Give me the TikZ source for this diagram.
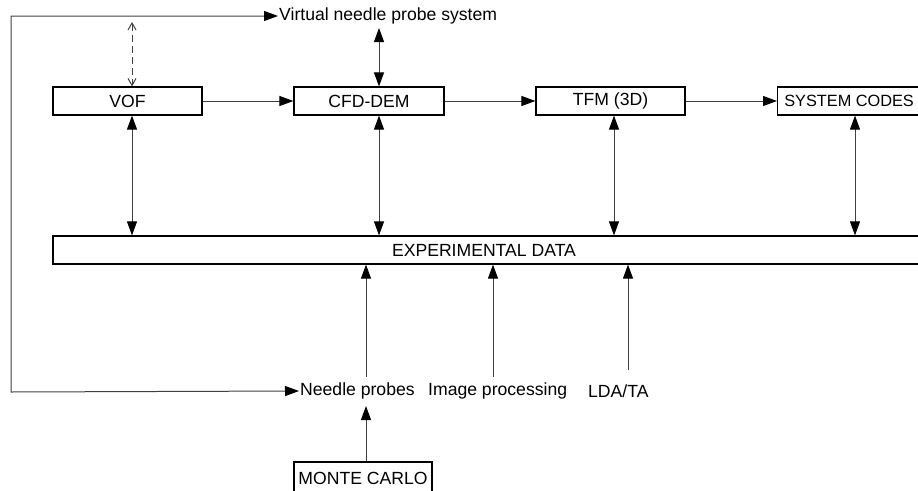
\documentclass[tikz,border=0pt]{standalone}
\usepackage{fontspec}
\setmainfont{Liberation Sans}
\usetikzlibrary{arrows.meta}
\begin{document}
\begin{tikzpicture}[x=1pt,y=-1pt,
  every node/.style={font=\fontsize{17.6}{20}\selectfont},
  blk/.style={draw, line width=1.2pt, inner sep=0pt, minimum height=28pt},
  lbl/.style={inner sep=1pt},
  conn/.style={line width=1pt, draw=black!75},
  tip/.tip={Triangle[length=14pt,width=10pt,color=black]},
  fwd/.style={conn, -tip},
  dbl/.style={conn, tip-tip},
  dashdbl/.style={conn, dashed, dash pattern=on 7pt off 4pt,
    {Straight Barb[length=7pt,width=8pt]}-{Straight Barb[length=7pt,width=8pt]}}]
\useasboundingbox (0,0) rectangle (918,490);
\clip (0,0) rectangle (918,490);

% model chain
\node[blk, minimum width=149pt] (vof) at (127.5,101) {VOF};
\node[blk, minimum width=150pt] (cfd) at (369,101) {CFD-DEM};
\node[blk, minimum width=149pt] (tfm) at (610.5,101) {TFM (3D)};
\node[blk, minimum width=149pt, anchor=west,
  font=\fontsize{16.3}{20}\selectfont] (sys) at (777,101) {\hspace*{2pt}SYSTEM CODES\hspace*{8pt}};

% experimental database
\node[blk, minimum width=867pt, minimum height=28pt] (exp) at (486.5,250) {};
\node[lbl] (exptxt) at (484,250) {EXPERIMENTAL DATA};

% measurement techniques
\node[lbl, anchor=west] (virt) at (278,16) {Virtual needle probe system};
\node[lbl, anchor=west] (needle) at (299,391) {Needle probes};
\node[lbl, anchor=west] (img) at (427,391) {Image processing};
\node[lbl, anchor=west] (lda) at (587,391) {LDA/TA};
\node[blk, minimum width=138pt, minimum height=32pt] (mc) at (363,478) {MONTE CARLO};

% helper abscissae
\coordinate (xa) at (132,0);
\coordinate (xb) at (379,0);
\coordinate (xc) at (614,0);
\coordinate (xd) at (855,0);
\coordinate (xn) at (366,0);
\coordinate (xi) at (493,0);
\coordinate (xl) at (628,0);
\coordinate (loopl) at (11,392);
\coordinate (loopu) at (11,16);
\coordinate (vtop) at (132,22);
\coordinate (cfdtop) at (379,28);
\coordinate (nbot) at (366,377);
\coordinate (ibot) at (493,377);
\coordinate (lbot) at (628,370);
\coordinate (ntop) at (366,406);

% chain arrows
\draw[fwd] (vof.east) -- (cfd.west);
\draw[fwd] (cfd.east) -- (tfm.west);
\draw[fwd] (tfm.east) -- (sys.west);

% models <-> experimental data
\draw[dbl] (vof.south -| xa) -- (exp.north -| xa);
\draw[dbl] (cfd.south -| xb) -- (exp.north -| xb);
\draw[dbl] (tfm.south -| xc) -- (exp.north -| xc);
\draw[dbl] (sys.south -| xd) -- (exp.north -| xd);

% virtual probe links
\draw[dashdbl] (vtop) -- (vof.north -| xa);
\draw[dbl] (cfdtop) -- (cfd.north -| xb);

% feedback loop between real and virtual probes
\draw[dbl] (needle.west) -- (loopl) -- (loopu) -- (virt.west);

% measurements into database
\draw[fwd] (nbot) -- (exp.south -| xn);
\draw[fwd] (ibot) -- (exp.south -| xi);
\draw[fwd] (lbot) -- (exp.south -| xl);
\draw[fwd] (mc.north -| xn) -- (ntop);
\end{tikzpicture}
\end{document}
